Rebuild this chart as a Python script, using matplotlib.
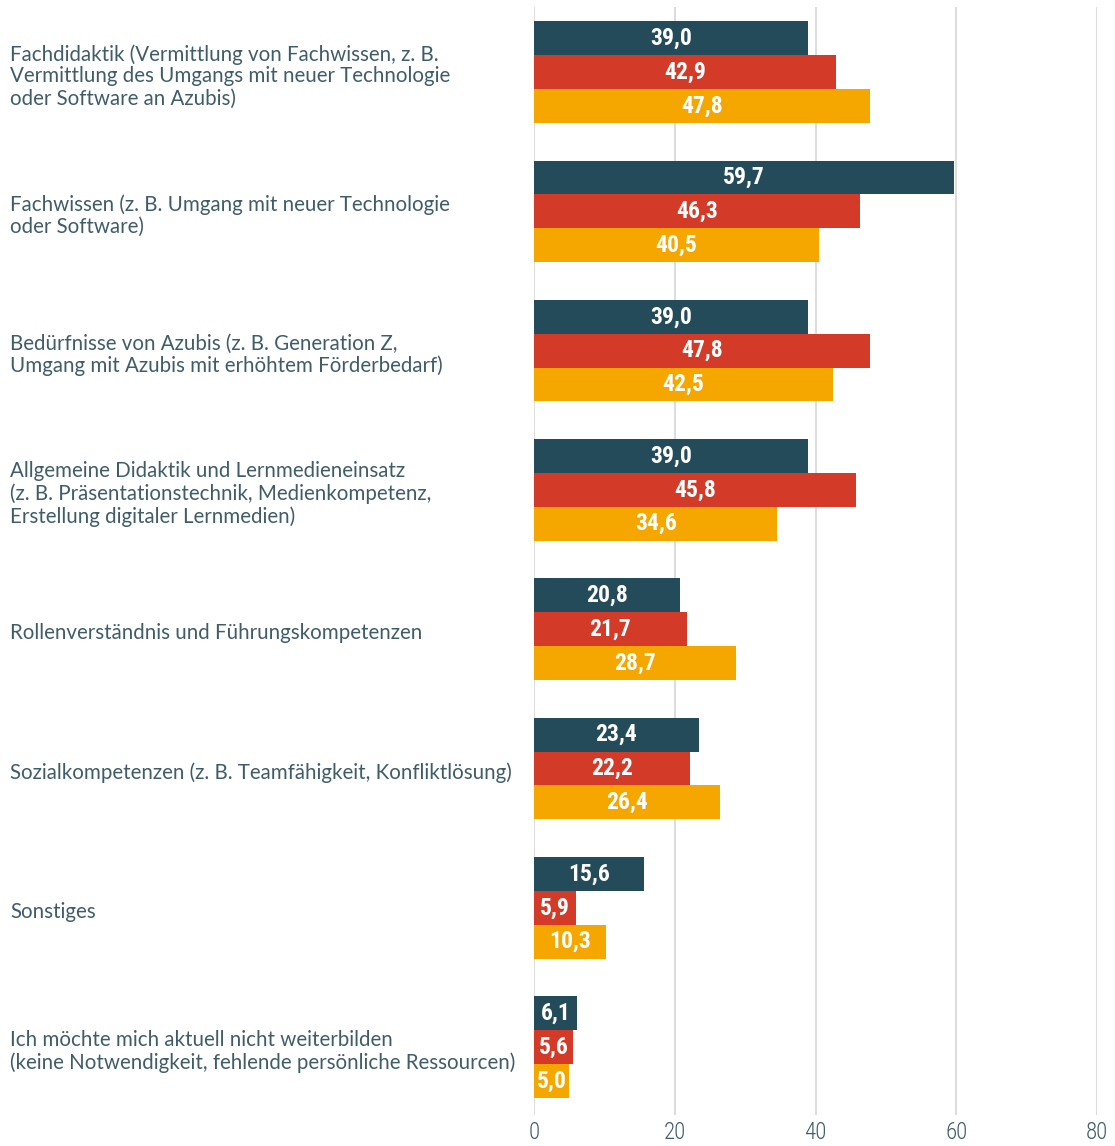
#!/usr/bin/env python3
"""Grouped horizontal bar chart: Weiterbildungsthemen (Anteile in %)."""

import numpy as np
import matplotlib.pyplot as plt
from matplotlib import font_manager
from matplotlib.transforms import blended_transform_factory

# ── Data ────────────────────────────────────────────────────────────────
categories = [
    "Fachdidaktik (Vermittlung von Fachwissen, z. B.\nVermittlung des Umgangs mit neuer Technologie\noder Software an Azubis)",
    "Fachwissen (z. B. Umgang mit neuer Technologie\noder Software)",
    "Bedürfnisse von Azubis (z. B. Generation Z,\nUmgang mit Azubis mit erhöhtem Förderbedarf)",
    "Allgemeine Didaktik und Lernmedieneinsatz\n(z. B. Präsentationstechnik, Medienkompetenz,\nErstellung digitaler Lernmedien)",
    "Rollenverständnis und Führungskompetenzen",
    "Sozialkompetenzen (z. B. Teamfähigkeit, Konfliktlösung)",
    "Sonstiges",
    "Ich möchte mich aktuell nicht weiterbilden\n(keine Notwendigkeit, fehlende persönliche Ressourcen)",
]
series_1 = [39.0, 59.7, 39.0, 39.0, 20.8, 23.4, 15.6, 6.1]
series_2 = [42.9, 46.3, 47.8, 45.8, 21.7, 22.2, 5.9, 5.6]
series_3 = [47.8, 40.5, 42.5, 34.6, 28.7, 26.4, 10.3, 5.0]
x_ticks = [0, 20, 40, 60, 80]

COLORS = ["#244B5A", "#D33A28", "#F5A700"]
TEXT_COLOR = "#3F5D69"

# condensed face for numbers if one is around
names = {f.name for f in font_manager.fontManager.ttflist}
condensed = next((n for n in ["Roboto Condensed", "Liberation Sans Narrow"] if n in names), None)
NUM_FAMILY = [condensed, "Roboto", "DejaVu Sans"] if condensed else ["Roboto", "DejaVu Sans"]
VAL_SIZE = 17 if condensed else 14.5

# ── Figure ──────────────────────────────────────────────────────────────
fig = plt.figure(figsize=(11.15, 11.46), dpi=100)
ax = fig.add_axes([534 / 1115, 1 - 1115 / 1146, (1097 - 534) / 1115, (1115 - 7) / 1146])

y = np.arange(len(categories))
h = 0.243
for k, (vals, color) in enumerate(zip([series_1, series_2, series_3], COLORS)):
    pos = y + (k - 1) * h
    ax.barh(pos, vals, height=h, color=color, zorder=3)
    for p, v in zip(pos, vals):
        ax.text(v / 2, p, f"{v:.1f}".replace(".", ","), ha="center", va="center",
                color="white", fontsize=VAL_SIZE, fontweight="bold",
                family=NUM_FAMILY, zorder=4)

# category labels, left-aligned at the figure edge
trans = blended_transform_factory(fig.transFigure, ax.transData)
for i, lab in enumerate(categories):
    ax.text(10 / 1115, i + 0.03, lab, transform=trans, ha="left", va="center",
            fontsize=14.8, color=TEXT_COLOR, fontweight="normal",
            family=["Lato", "DejaVu Sans"], linespacing=1.12)

c, s = 72, 139.3
ax.set_ylim((1115 - c) / s, (7 - c) / s)
ax.set_xlim(0, 80)
ax.set_xticks(x_ticks)
ax.set_xticklabels([str(t) for t in x_ticks], fontsize=16.5, color=TEXT_COLOR,
                   family=NUM_FAMILY, fontweight="light")
ax.set_yticks([])
ax.tick_params(axis="x", length=0, pad=4)
ax.grid(axis="x", color="#DDDDDD", linewidth=1.5, zorder=0)
for sp in ax.spines.values():
    sp.set_visible(False)

fig.savefig("out.png", dpi=100)
